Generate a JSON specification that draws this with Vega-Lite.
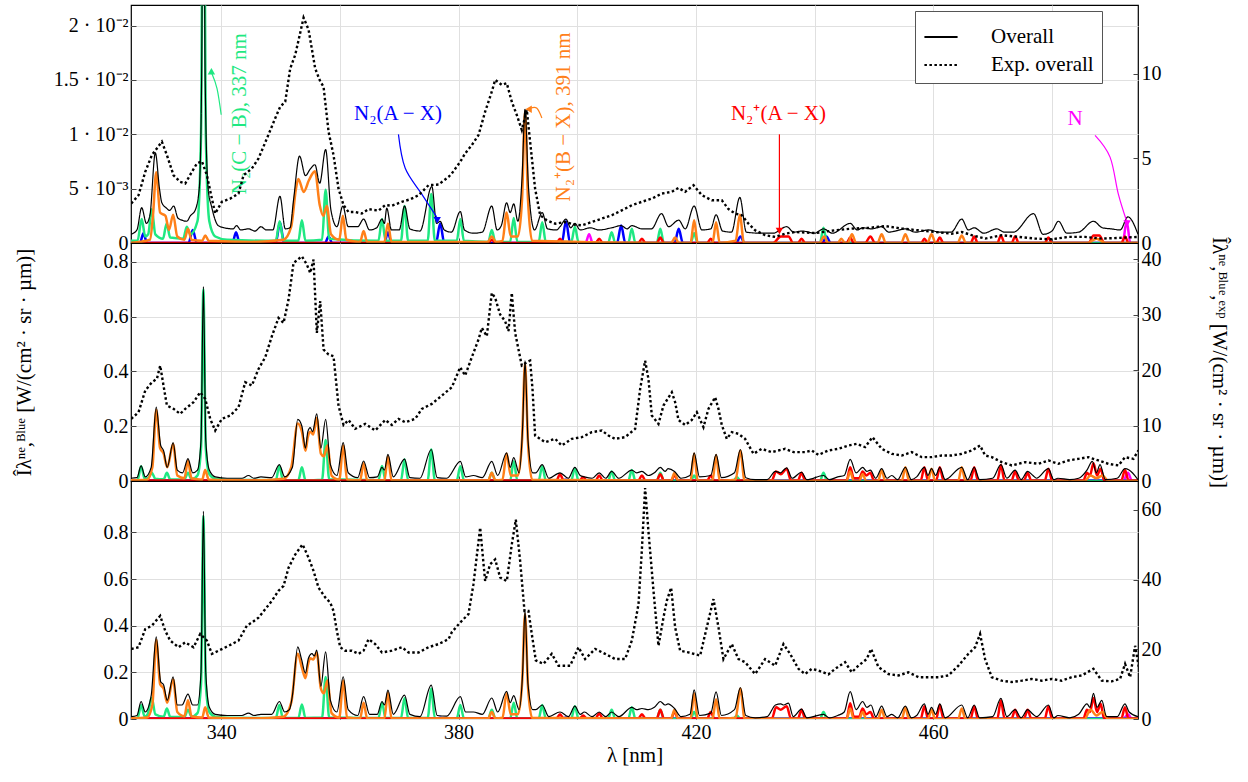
{
"$schema":"https://vega.github.io/schema/vega-lite/v6.json",
"padding":{"left":12,"top":4,"right":5,"bottom":5},
"spacing":0,
"bounds":"flush",
"config":{"font":"Liberation Serif","view":{"stroke":"black","strokeWidth":1.2},
"style":{"guide-label":{"font":"Liberation Serif"},"guide-title":{"font":"Liberation Serif"}},
"axis":{"labelFontSize":20,"titleFontSize":21,"labelColor":"#000","titleColor":"#000","titleFontWeight":"normal","gridColor":"#e0e0e0","tickColor":"#444","labelFont":"Liberation Serif","titleFont":"Liberation Serif","domain":false},
"text":{"font":"Liberation Serif"}},
"resolve":{"scale":{"x":"independent","y":"independent","color":"independent","strokeDash":"independent","shape":"independent"}},
"datasets":{
"t_b":[{"x":324.8,"y":0},{"x":326.3,"y":0},{"x":326.9,"y":0.0009},{"x":327.5,"y":0},{"x":334.5,"y":0},{"x":335.2,"y":0.0012},{"x":335.9,"y":0},{"x":341.9,"y":0},{"x":342.5,"y":0.001},{"x":343.1,"y":0},{"x":349.2,"y":0},{"x":349.9,"y":0.0019},{"x":350.6,"y":0},{"x":357.5,"y":0},{"x":358.1,"y":0.0006},{"x":358.7,"y":0},{"x":367.5,"y":0},{"x":368.1,"y":0.001},{"x":368.7,"y":0},{"x":376.2,"y":0},{"x":376.9,"y":0.0018},{"x":377.6,"y":0},{"x":397.4,"y":0},{"x":398.1,"y":0.002},{"x":398.8,"y":0},{"x":406.7,"y":0},{"x":407.4,"y":0.0016},{"x":408.1,"y":0},{"x":416.4,"y":0},{"x":417.1,"y":0.0013},{"x":417.8,"y":0},{"x":426.8,"y":0},{"x":427.5,"y":0.0006},{"x":428.2,"y":0},{"x":441.3,"y":0},{"x":442,"y":0.0006},{"x":442.7,"y":0},{"x":494.5,"y":0}],
"t_g":[{"x":324.8,"y":0.0002},{"x":325.9,"y":0.0002},{"x":326.6,"y":0.0022},{"x":327.2,"y":0.0006},{"x":327.7,"y":0.0008},{"x":328.3,"y":0.0031},{"x":328.9,"y":0.0008},{"x":330.2,"y":0.0004},{"x":330.8,"y":0.0018},{"x":331.4,"y":0.0005},{"x":333.6,"y":0.0004},{"x":334.2,"y":0.0015},{"x":334.8,"y":0.0008},{"x":336.0,"y":0.002},{"x":336.6,"y":0.01},{"x":337.0,"y":0.045},{"x":337.4,"y":0.01},{"x":338.0,"y":0.002},{"x":339.0,"y":0.0006},{"x":341,"y":0.0003},{"x":349.2,"y":0.0002},{"x":349.85,"y":0.002},{"x":350.5,"y":0.0002},{"x":353.0,"y":0.0002},{"x":353.6,"y":0.0021},{"x":354.2,"y":0.0002},{"x":357.0,"y":0.0003},{"x":357.6,"y":0.0049},{"x":358.2,"y":0.0004},{"x":366.5,"y":0.0002},{"x":367.1,"y":0.0022},{"x":367.7,"y":0.0002},{"x":370.3,"y":0.0002},{"x":370.9,"y":0.0034},{"x":371.5,"y":0.0002},{"x":374.8,"y":0.0002},{"x":375.4,"y":0.0045},{"x":376.0,"y":0.0002},{"x":379.7,"y":0.0002},{"x":380.3,"y":0.0022},{"x":380.9,"y":0.0002},{"x":385.0,"y":0.0001},{"x":385.6,"y":0.0012},{"x":386.2,"y":0.0001},{"x":388.7,"y":0.0001},{"x":389.3,"y":0.0023},{"x":389.9,"y":0.0001},{"x":393.5,"y":0.0001},{"x":394.1,"y":0.0019},{"x":394.7,"y":0.0001},{"x":399.0,"y":0.0001},{"x":399.6,"y":0.0015},{"x":400.2,"y":0.0001},{"x":405.2,"y":0},{"x":405.8,"y":0.001},{"x":406.4,"y":0},{"x":408.6,"y":0},{"x":409.2,"y":0.0013},{"x":409.8,"y":0},{"x":413.4,"y":0},{"x":414.0,"y":0.0013},{"x":414.6,"y":0},{"x":419.1,"y":0},{"x":419.7,"y":0.0009},{"x":420.3,"y":0},{"x":440.9,"y":0},{"x":441.5,"y":0.0014},{"x":442.1,"y":0},{"x":494.5,"y":0}],
"t_r":[{"x":324.8,"y":0},{"x":385,"y":0},{"x":385.6,"y":0.0003},{"x":386.2,"y":0},{"x":396.5,"y":0},{"x":397.1,"y":0.0004},{"x":397.7,"y":0},{"x":403.1,"y":0},{"x":403.7,"y":0.0004},{"x":404.3,"y":0},{"x":410.3,"y":0},{"x":410.9,"y":0.0004},{"x":411.5,"y":0},{"x":413.4,"y":0},{"x":414,"y":0.0005},{"x":414.6,"y":0},{"x":421.9,"y":0},{"x":422.5,"y":0.0004},{"x":423.1,"y":0},{"x":433,"y":0},{"x":434.3,"y":0.0006},{"x":435.6,"y":0.0006},{"x":436.4,"y":0},{"x":437.2,"y":0},{"x":437.8,"y":0.0004},{"x":438.4,"y":0},{"x":445.4,"y":0},{"x":446.0,"y":0.0005},{"x":446.6,"y":0},{"x":448.5,"y":0},{"x":449.4,"y":0.0006},{"x":450.2,"y":0},{"x":458.0,"y":0},{"x":458.5,"y":0.0004},{"x":459.1,"y":0},{"x":460.5,"y":0},{"x":461.1,"y":0.0005},{"x":461.7,"y":0},{"x":466.3,"y":0},{"x":466.9,"y":0.0006},{"x":467.5,"y":0},{"x":470.8,"y":0},{"x":471.4,"y":0.0007},{"x":472,"y":0},{"x":473.2,"y":0},{"x":473.8,"y":0.0006},{"x":474.4,"y":0},{"x":478.8,"y":0},{"x":479.4,"y":0.0005},{"x":480,"y":0},{"x":486.2,"y":0},{"x":487.0,"y":0.0007},{"x":488.0,"y":0.0007},{"x":488.8,"y":0},{"x":491.7,"y":0},{"x":492.3,"y":0.0006},{"x":492.9,"y":0},{"x":494.5,"y":0}],
"t_o":[{"x":324.8,"y":0},{"x":328.0,"y":0.0003},{"x":328.5,"y":0.0025},{"x":329.05,"y":0.0065},{"x":329.7,"y":0.0028},{"x":330.6,"y":0.0025},{"x":331.2,"y":0.0012},{"x":331.9,"y":0.0026},{"x":332.6,"y":0.0006},{"x":333.8,"y":0.0003},{"x":334.4,"y":0.0013},{"x":335.0,"y":0.0003},{"x":336.8,"y":0.0002},{"x":337.3,"y":0.0007},{"x":337.9,"y":0.0002},{"x":345,"y":0.0001},{"x":350.5,"y":0.0003},{"x":351.8,"y":0.0015},{"x":352.6,"y":0.005},{"x":353.0,"y":0.0059},{"x":353.9,"y":0.0047},{"x":354.8,"y":0.0058},{"x":355.8,"y":0.0066},{"x":356.6,"y":0.0035},{"x":357.2,"y":0.0025},{"x":357.8,"y":0.0034},{"x":358.5,"y":0.0008},{"x":359.9,"y":0.0003},{"x":360.5,"y":0.0025},{"x":361.1,"y":0.0003},{"x":363.4,"y":0.0001},{"x":364.0,"y":0.0011},{"x":364.6,"y":0.0001},{"x":367.5,"y":0.0001},{"x":368.1,"y":0.0018},{"x":368.7,"y":0.0001},{"x":384.9,"y":0.0001},{"x":385.6,"y":0.0006},{"x":386.3,"y":0.0001},{"x":387.4,"y":0.0002},{"x":388.1,"y":0.0028},{"x":388.8,"y":0.0006},{"x":390.0,"y":0.0006},{"x":390.7,"y":0.004},{"x":391.2,"y":0.0121},{"x":391.7,"y":0.004},{"x":392.4,"y":0.0002},{"x":415.8,"y":0},{"x":416.5,"y":0.0005},{"x":417.1,"y":0},{"x":419.1,"y":0},{"x":419.7,"y":0.0021},{"x":420.3,"y":0},{"x":422.8,"y":0},{"x":423.4,"y":0.0019},{"x":424.0,"y":0},{"x":426.7,"y":0.0002},{"x":427.4,"y":0.0026},{"x":428.1,"y":0},{"x":440.8,"y":0},{"x":441.6,"y":0.0006},{"x":442.3,"y":0},{"x":443.9,"y":0},{"x":444.5,"y":0.0004},{"x":445.1,"y":0},{"x":445.6,"y":0},{"x":446.3,"y":0.0008},{"x":447.0,"y":0},{"x":450.6,"y":0},{"x":451.3,"y":0.0008},{"x":452.0,"y":0},{"x":454.6,"y":0},{"x":455.3,"y":0.0008},{"x":456,"y":0},{"x":459,"y":0},{"x":459.7,"y":0.0008},{"x":460.4,"y":0},{"x":464.1,"y":0},{"x":464.8,"y":0.0007},{"x":465.5,"y":0},{"x":486,"y":0},{"x":487.5,"y":0.0004},{"x":489,"y":0},{"x":494.5,"y":0}],
"t_m":[{"x":324.8,"y":0},{"x":401.4,"y":0},{"x":402.0,"y":0.0008},{"x":402.6,"y":0},{"x":491.9,"y":0},{"x":492.6,"y":0.002},{"x":493.2,"y":0},{"x":494.5,"y":0}],
"t_all":[{"x":324.8,"y":0.0008},{"x":325.8,"y":0.0012},{"x":326.6,"y":0.00325},{"x":327.4,"y":0.0018},{"x":328.0,"y":0.0026},{"x":328.9,"y":0.0083},{"x":329.6,"y":0.005},{"x":330.0,"y":0.0037},{"x":330.8,"y":0.0032},{"x":331.3,"y":0.003},{"x":332.0,"y":0.0034},{"x":332.7,"y":0.0023},{"x":333.4,"y":0.0021},{"x":334.2,"y":0.002},{"x":334.8,"y":0.0025},{"x":335.6,"y":0.003},{"x":336.3,"y":0.005},{"x":336.7,"y":0.015},{"x":337.0,"y":0.045},{"x":337.3,"y":0.015},{"x":337.8,"y":0.005},{"x":338.4,"y":0.0033},{"x":339.5,"y":0.0016},{"x":340.5,"y":0.0014},{"x":342.0,"y":0.0013},{"x":342.6,"y":0.0016},{"x":343.3,"y":0.0012},{"x":344.6,"y":0.0013},{"x":345.7,"y":0.0011},{"x":346.7,"y":0.0015},{"x":347.6,"y":0.0012},{"x":348.7,"y":0.0012},{"x":349.9,"y":0.0043},{"x":350.8,"y":0.0013},{"x":351.6,"y":0.0014},{"x":352.2,"y":0.004},{"x":353.2,"y":0.008},{"x":354.2,"y":0.0062},{"x":355.0,"y":0.0068},{"x":355.8,"y":0.0072},{"x":356.6,"y":0.0055},{"x":357.6,"y":0.0086},{"x":358.5,"y":0.003},{"x":359.5,"y":0.0015},{"x":360.5,"y":0.0034},{"x":361.4,"y":0.0015},{"x":363.0,"y":0.0015},{"x":364.0,"y":0.0022},{"x":365.0,"y":0.0012},{"x":366.2,"y":0.0014},{"x":367.1,"y":0.0022},{"x":367.5,"y":0.0018},{"x":367.9,"y":0.0032},{"x":368.7,"y":0.0012},{"x":370.0,"y":0.0012},{"x":370.9,"y":0.0034},{"x":371.8,"y":0.0013},{"x":373.5,"y":0.0011},{"x":375.5,"y":0.0052},{"x":376.3,"y":0.0018},{"x":376.9,"y":0.002},{"x":377.6,"y":0.0012},{"x":378.8,"y":0.001},{"x":380.3,"y":0.0029},{"x":381.0,"y":0.0012},{"x":382.5,"y":0.0009},{"x":384.0,"y":0.001},{"x":385.6,"y":0.0034},{"x":386.5,"y":0.0012},{"x":387.2,"y":0.0016},{"x":388.1,"y":0.0037},{"x":388.7,"y":0.0028},{"x":389.3,"y":0.0036},{"x":390.0,"y":0.002},{"x":390.7,"y":0.006},{"x":391.2,"y":0.0123},{"x":391.8,"y":0.005},{"x":392.8,"y":0.0012},{"x":394.1,"y":0.0028},{"x":395.0,"y":0.0013},{"x":396.5,"y":0.0012},{"x":397.1,"y":0.0015},{"x":398.1,"y":0.0022},{"x":398.9,"y":0.0014},{"x":399.6,"y":0.0018},{"x":400.5,"y":0.0012},{"x":402.2,"y":0.0014},{"x":403.7,"y":0.0012},{"x":405.8,"y":0.0014},{"x":407.4,"y":0.0016},{"x":408.4,"y":0.0013},{"x":409.2,"y":0.0016},{"x":410.9,"y":0.0013},{"x":412.5,"y":0.0013},{"x":414.2,"y":0.0027},{"x":415.4,"y":0.0015},{"x":417.1,"y":0.0021},{"x":418.2,"y":0.0013},{"x":419.7,"y":0.0034},{"x":421.0,"y":0.0012},{"x":422.5,"y":0.0013},{"x":423.4,"y":0.0026},{"x":424.5,"y":0.0011},{"x":426.0,"y":0.001},{"x":427.4,"y":0.0042},{"x":428.5,"y":0.001},{"x":431.0,"y":0.0009},{"x":433.0,"y":0.0009},{"x":435.3,"y":0.0015},{"x":436.5,"y":0.001},{"x":437.9,"y":0.0011},{"x":440.0,"y":0.0009},{"x":441.5,"y":0.0013},{"x":443.0,"y":0.0009},{"x":446.0,"y":0.0018},{"x":447.2,"y":0.0012},{"x":448.1,"y":0.0014},{"x":449.6,"y":0.0013},{"x":451.3,"y":0.0015},{"x":452.5,"y":0.001},{"x":453.6,"y":0.0011},{"x":455.3,"y":0.0013},{"x":457.0,"y":0.001},{"x":459.2,"y":0.0012},{"x":461.1,"y":0.001},{"x":463.0,"y":0.001},{"x":464.8,"y":0.0022},{"x":465.9,"y":0.0012},{"x":466.9,"y":0.0014},{"x":468.5,"y":0.0009},{"x":470.7,"y":0.0013},{"x":472.0,"y":0.001},{"x":473.5,"y":0.001},{"x":476.9,"y":0.0027},{"x":478.5,"y":0.0008},{"x":480.0,"y":0.0011},{"x":481.1,"y":0.002},{"x":482.5,"y":0.0009},{"x":484.5,"y":0.001},{"x":487.0,"y":0.002},{"x":488.5,"y":0.0014},{"x":490.0,"y":0.0013},{"x":491.5,"y":0.0012},{"x":492.8,"y":0.0024},{"x":494.5,"y":0.0008}],
"t_exp":[{"x":324.84,"y":2.33},{"x":326.07,"y":2.82},{"x":327.2,"y":4.2},{"x":328.32,"y":5.19},{"x":329.16,"y":5.58},{"x":330.0,"y":5.98},{"x":330.85,"y":5.19},{"x":331.97,"y":4.0},{"x":333.09,"y":3.61},{"x":333.94,"y":3.51},{"x":335.06,"y":4.2},{"x":335.9,"y":4.69},{"x":336.74,"y":4.83},{"x":337.59,"y":4.0},{"x":338.43,"y":2.62},{"x":338.99,"y":1.74},{"x":340.11,"y":2.43},{"x":341.52,"y":2.62},{"x":342.92,"y":2.92},{"x":343.77,"y":4.0},{"x":345.17,"y":4.4},{"x":346.29,"y":4.99},{"x":347.7,"y":6.17},{"x":349.1,"y":7.36},{"x":349.95,"y":8.05},{"x":350.79,"y":8.34},{"x":351.63,"y":10.3},{"x":352.47,"y":11.1},{"x":353.31,"y":12.4},{"x":353.88,"y":13.3},{"x":354.72,"y":12.6},{"x":355.84,"y":10.3},{"x":356.7,"y":9.53},{"x":357.25,"y":9.23},{"x":358.09,"y":6.57},{"x":358.93,"y":5.19},{"x":359.77,"y":3.21},{"x":360.62,"y":2.23},{"x":361.46,"y":1.83},{"x":362.58,"y":1.83},{"x":363.7,"y":1.74},{"x":364.83,"y":2.0},{"x":366.51,"y":1.91},{"x":367.64,"y":2.24},{"x":368.76,"y":2.2},{"x":370.45,"y":2.43},{"x":371.85,"y":2.58},{"x":373.26,"y":2.82},{"x":374.94,"y":3.41},{"x":376.63,"y":3.45},{"x":378.31,"y":3.9},{"x":378.86,"y":4.1},{"x":380.28,"y":4.79},{"x":381.11,"y":5.29},{"x":382.23,"y":5.78},{"x":383.36,"y":6.37},{"x":384.48,"y":7.75},{"x":385.6,"y":8.93},{"x":386.17,"y":9.63},{"x":387.29,"y":9.33},{"x":388.13,"y":9.43},{"x":388.97,"y":8.34},{"x":389.82,"y":7.55},{"x":390.66,"y":6.67},{"x":391.5,"y":7.85},{"x":392.06,"y":5.98},{"x":392.9,"y":3.21},{"x":393.75,"y":1.64},{"x":394.87,"y":1.34},{"x":396.28,"y":1.14},{"x":397.96,"y":1.24},{"x":399.65,"y":1.08},{"x":400.77,"y":1.04},{"x":402.45,"y":1.24},{"x":404.14,"y":1.44},{"x":405.83,"y":1.64},{"x":407.51,"y":1.93},{"x":409.2,"y":2.23},{"x":410.88,"y":2.43},{"x":412.57,"y":2.62},{"x":414.25,"y":2.92},{"x":415.94,"y":3.02},{"x":417.06,"y":3.25},{"x":418.18,"y":3.02},{"x":419.59,"y":3.41},{"x":421.0,"y":2.82},{"x":422.68,"y":2.52},{"x":424.36,"y":2.52},{"x":425.49,"y":2.0},{"x":426.61,"y":1.74},{"x":427.73,"y":1.64},{"x":428.86,"y":1.14},{"x":429.98,"y":0.75},{"x":431.66,"y":0.46},{"x":433.35,"y":0.36},{"x":435.03,"y":0.55},{"x":436.72,"y":0.65},{"x":440.1,"y":0.59},{"x":443.46,"y":0.75},{"x":446.26,"y":0.85},{"x":449.07,"y":0.89},{"x":451.88,"y":1.0},{"x":454.69,"y":0.85},{"x":457.5,"y":0.75},{"x":460.3,"y":0.65},{"x":463.12,"y":0.55},{"x":464.8,"y":0.65},{"x":466.5,"y":0.46},{"x":468.73,"y":0.26},{"x":471.54,"y":0.46},{"x":474.35,"y":0.36},{"x":477.16,"y":0.26},{"x":479.97,"y":0.22},{"x":482.77,"y":0.36},{"x":485.58,"y":0.36},{"x":488.39,"y":0.26},{"x":491.2,"y":0.3},{"x":494.57,"y":0.36}],
"t_labv":[{"s":"N2CB","t":"N₂(C − B), 337 nm","x":343.2,"y":0.0119},{"s":"N2pBX","t":"N₂⁺(B − X), 391 nm","x":397.8,"y":0.0116}],
"t_labh":[{"s":"N2AX","t":"N₂(A − X)","x":369.8,"y":0.0119},{"s":"N2pAX","t":"N₂⁺(A − X)","x":433.9,"y":0.0119},{"s":"N","t":"N","x":483.9,"y":0.0114}],
"t_arr":[{"s":"N2CB","i":0,"x":340.0,"y":0.0118},{"s":"N2CB","i":1,"x":339.3,"y":0.0142},{"s":"N2CB","i":2,"x":338.43,"y":0.0156},
{"s":"N2AX","i":0,"x":369.87,"y":0.0100},{"s":"N2AX","i":1,"x":371.0,"y":0.0069},{"s":"N2AX","i":2,"x":373.8,"y":0.0045},{"s":"N2AX","i":3,"x":376.3,"y":0.0024},
{"s":"N2pBX","i":0,"x":394.04,"y":0.0115},{"s":"N2pBX","i":1,"x":393.2,"y":0.0124},{"s":"N2pBX","i":2,"x":392.1,"y":0.0124},
{"s":"N2pAX","i":0,"x":434.07,"y":0.0100},{"s":"N2pAX","i":1,"x":434.07,"y":0.0013},
{"s":"N","i":0,"x":487.26,"y":0.0099},{"s":"N","i":1,"x":489.79,"y":0.0079},{"s":"N","i":2,"x":491.19,"y":0.0045},{"s":"N","i":3,"x":492.6,"y":0.0020}],
"t_head":[{"s":"N2CB","x":338.35,"y":0.0158},{"s":"N2AX","x":376.4,"y":0.0021},{"s":"N2pBX","x":391.8,"y":0.0123},{"s":"N2pAX","x":434.07,"y":0.0011},{"s":"N","x":492.65,"y":0.0018}],
"m_b":[{"x":324.8,"y":0.002},{"x":349.2,"y":0.002},{"x":349.9,"y":0.006},{"x":350.6,"y":0.002},{"x":376.2,"y":0.002},{"x":376.9,"y":0.004},{"x":377.6,"y":0.002},{"x":397.4,"y":0.002},{"x":398.1,"y":0.005},{"x":398.8,"y":0.002},{"x":494.5,"y":0.002}],
"m_g":[{"x":324.8,"y":0.003},{"x":325.9,"y":0.003},{"x":326.5,"y":0.054},{"x":327.1,"y":0.008},{"x":327.7,"y":0.01},{"x":328.3,"y":0.03},{"x":328.9,"y":0.008},{"x":330.3,"y":0.006},{"x":330.85,"y":0.03},{"x":331.4,"y":0.006},{"x":333.8,"y":0.005},{"x":334.4,"y":0.03},{"x":335.0,"y":0.006},{"x":336.0,"y":0.02},{"x":336.6,"y":0.12},{"x":337.0,"y":0.70},{"x":337.4,"y":0.12},{"x":338.0,"y":0.025},{"x":339.0,"y":0.008},{"x":341,"y":0.004},{"x":349.2,"y":0.003},{"x":349.8,"y":0.055},{"x":350.4,"y":0.003},{"x":353.0,"y":0.003},{"x":353.6,"y":0.05},{"x":354.2,"y":0.003},{"x":357.0,"y":0.005},{"x":357.6,"y":0.15},{"x":358.2,"y":0.006},{"x":366.5,"y":0.003},{"x":367.1,"y":0.055},{"x":367.7,"y":0.003},{"x":370.3,"y":0.003},{"x":370.9,"y":0.079},{"x":371.5,"y":0.003},{"x":374.8,"y":0.003},{"x":375.4,"y":0.115},{"x":376.0,"y":0.003},{"x":379.7,"y":0.003},{"x":380.3,"y":0.054},{"x":380.9,"y":0.003},{"x":385.0,"y":0.002},{"x":385.6,"y":0.03},{"x":386.2,"y":0.002},{"x":388.7,"y":0.002},{"x":389.3,"y":0.072},{"x":389.9,"y":0.002},{"x":393.5,"y":0.002},{"x":394.1,"y":0.054},{"x":394.7,"y":0.002},{"x":399.0,"y":0.002},{"x":399.6,"y":0.047},{"x":400.2,"y":0.002},{"x":405.2,"y":0.001},{"x":405.8,"y":0.035},{"x":406.4,"y":0.001},{"x":408.6,"y":0.001},{"x":409.2,"y":0.04},{"x":409.8,"y":0.001},{"x":413.4,"y":0.001},{"x":414.0,"y":0.03},{"x":414.6,"y":0.001},{"x":419.1,"y":0.001},{"x":419.7,"y":0.02},{"x":420.3,"y":0.001},{"x":426.3,"y":0.001},{"x":426.9,"y":0.015},{"x":427.5,"y":0.001},{"x":440.9,"y":0},{"x":441.5,"y":0.03},{"x":442.1,"y":0},{"x":494.5,"y":0}],
"m_r":[{"x":324.8,"y":0.002},{"x":396.5,"y":0.002},{"x":397.1,"y":0.025},{"x":397.7,"y":0.002},{"x":400.4,"y":0.002},{"x":401.0,"y":0.015},{"x":401.6,"y":0.002},{"x":403.1,"y":0.002},{"x":403.7,"y":0.02},{"x":404.3,"y":0.002},{"x":410.3,"y":0.002},{"x":410.9,"y":0.02},{"x":411.5,"y":0.002},{"x":413.4,"y":0.002},{"x":414.0,"y":0.025},{"x":414.6,"y":0.002},{"x":415.8,"y":0.002},{"x":416.4,"y":0.02},{"x":417.0,"y":0.002},{"x":421.9,"y":0.002},{"x":422.5,"y":0.02},{"x":423.1,"y":0.002},{"x":432.8,"y":0.002},{"x":433.5,"y":0.035},{"x":434.3,"y":0.025},{"x":435.3,"y":0.045},{"x":436.0,"y":0.002},{"x":437.2,"y":0.002},{"x":437.8,"y":0.03},{"x":438.4,"y":0.002},{"x":445.4,"y":0.002},{"x":446.0,"y":0.05},{"x":446.6,"y":0.01},{"x":447.5,"y":0.01},{"x":448.1,"y":0.035},{"x":448.7,"y":0.02},{"x":449.4,"y":0.03},{"x":450.0,"y":0.002},{"x":457.9,"y":0.002},{"x":458.5,"y":0.05},{"x":459.1,"y":0.002},{"x":460.5,"y":0.002},{"x":461.1,"y":0.05},{"x":461.7,"y":0.002},{"x":466.3,"y":0.002},{"x":466.9,"y":0.05},{"x":467.5,"y":0.002},{"x":470.8,"y":0.002},{"x":471.4,"y":0.058},{"x":472.0,"y":0.002},{"x":473.2,"y":0.002},{"x":473.8,"y":0.035},{"x":474.4,"y":0.002},{"x":475.3,"y":0.002},{"x":475.9,"y":0.03},{"x":476.5,"y":0.002},{"x":478.8,"y":0.002},{"x":479.4,"y":0.045},{"x":480.0,"y":0.002},{"x":485.3,"y":0.002},{"x":485.9,"y":0.03},{"x":486.4,"y":0.02},{"x":487.0,"y":0.065},{"x":487.6,"y":0.02},{"x":488.2,"y":0.045},{"x":488.8,"y":0.002},{"x":491.7,"y":0.002},{"x":492.3,"y":0.04},{"x":492.9,"y":0.002},{"x":494.5,"y":0.002}],
"m_o":[{"x":324.8,"y":0.003},{"x":327.5,"y":0.005},{"x":328.4,"y":0.05},{"x":329.05,"y":0.26},{"x":329.7,"y":0.12},{"x":330.3,"y":0.10},{"x":330.9,"y":0.05},{"x":331.9,"y":0.135},{"x":332.6,"y":0.02},{"x":333.8,"y":0.01},{"x":334.4,"y":0.075},{"x":335.0,"y":0.01},{"x":336.8,"y":0.005},{"x":337.3,"y":0.04},{"x":337.9,"y":0.005},{"x":345,"y":0.002},{"x":350.5,"y":0.008},{"x":351.8,"y":0.05},{"x":352.9,"y":0.21},{"x":353.6,"y":0.18},{"x":354.2,"y":0.11},{"x":354.6,"y":0.16},{"x":355.0,"y":0.18},{"x":355.5,"y":0.17},{"x":356.1,"y":0.23},{"x":356.8,"y":0.1},{"x":357.3,"y":0.09},{"x":357.9,"y":0.13},{"x":358.6,"y":0.02},{"x":359.9,"y":0.005},{"x":360.56,"y":0.13},{"x":361.2,"y":0.005},{"x":363.4,"y":0.002},{"x":364.0,"y":0.065},{"x":364.6,"y":0.002},{"x":367.5,"y":0.002},{"x":368.1,"y":0.09},{"x":368.7,"y":0.002},{"x":385.0,"y":0.002},{"x":385.6,"y":0.03},{"x":386.2,"y":0.002},{"x":387.4,"y":0.005},{"x":388.1,"y":0.10},{"x":388.8,"y":0.02},{"x":390.0,"y":0.02},{"x":390.7,"y":0.15},{"x":391.2,"y":0.43},{"x":391.7,"y":0.14},{"x":392.4,"y":0.005},{"x":415.8,"y":0.001},{"x":416.4,"y":0.03},{"x":417.0,"y":0.001},{"x":419.1,"y":0.001},{"x":419.7,"y":0.10},{"x":420.3,"y":0.001},{"x":422.8,"y":0.001},{"x":423.4,"y":0.095},{"x":424.0,"y":0.001},{"x":426.7,"y":0.005},{"x":427.5,"y":0.11},{"x":428.2,"y":0.001},{"x":445.4,"y":0},{"x":446.0,"y":0.035},{"x":446.6,"y":0},{"x":447.5,"y":0},{"x":448.1,"y":0.025},{"x":448.7,"y":0},{"x":450.7,"y":0},{"x":451.3,"y":0.04},{"x":451.9,"y":0},{"x":454.7,"y":0},{"x":455.3,"y":0.05},{"x":455.9,"y":0},{"x":459.1,"y":0},{"x":459.7,"y":0.045},{"x":460.3,"y":0},{"x":464.2,"y":0},{"x":464.8,"y":0.05},{"x":465.4,"y":0},{"x":485.5,"y":0},{"x":486.5,"y":0.02},{"x":487.5,"y":0.01},{"x":488.5,"y":0.02},{"x":489.5,"y":0},{"x":494.5,"y":0}],
"m_m":[{"x":324.8,"y":0},{"x":492.0,"y":0},{"x":492.8,"y":0.03},{"x":493.5,"y":0},{"x":494.5,"y":0}],
"m_all":[{"x":324.8,"y":0.01},{"x":325.8,"y":0.012},{"x":326.5,"y":0.055},{"x":327.2,"y":0.015},{"x":328.2,"y":0.05},{"x":329.05,"y":0.27},{"x":329.8,"y":0.13},{"x":330.3,"y":0.11},{"x":330.9,"y":0.05},{"x":331.9,"y":0.14},{"x":332.6,"y":0.04},{"x":333.5,"y":0.03},{"x":334.4,"y":0.082},{"x":335.2,"y":0.03},{"x":336.0,"y":0.04},{"x":336.6,"y":0.15},{"x":337.0,"y":0.71},{"x":337.4,"y":0.15},{"x":338.0,"y":0.04},{"x":339.0,"y":0.015},{"x":341,"y":0.01},{"x":343.5,"y":0.01},{"x":344.6,"y":0.02},{"x":345.5,"y":0.01},{"x":346.7,"y":0.015},{"x":348.5,"y":0.012},{"x":349.8,"y":0.06},{"x":350.7,"y":0.015},{"x":352.0,"y":0.05},{"x":352.9,"y":0.225},{"x":353.6,"y":0.2},{"x":354.2,"y":0.12},{"x":354.6,"y":0.18},{"x":355.0,"y":0.195},{"x":355.4,"y":0.18},{"x":356.1,"y":0.245},{"x":356.8,"y":0.12},{"x":357.6,"y":0.225},{"x":358.4,"y":0.06},{"x":359.5,"y":0.02},{"x":360.56,"y":0.14},{"x":361.4,"y":0.03},{"x":363.0,"y":0.012},{"x":364.0,"y":0.073},{"x":365.0,"y":0.012},{"x":366.3,"y":0.015},{"x":367.1,"y":0.05},{"x":367.5,"y":0.04},{"x":368.1,"y":0.097},{"x":369.0,"y":0.015},{"x":370.9,"y":0.08},{"x":371.8,"y":0.012},{"x":373.5,"y":0.01},{"x":375.4,"y":0.115},{"x":376.4,"y":0.012},{"x":378,"y":0.01},{"x":380.3,"y":0.072},{"x":381.2,"y":0.015},{"x":382.5,"y":0.02},{"x":384,"y":0.012},{"x":385.6,"y":0.072},{"x":386.6,"y":0.02},{"x":388.1,"y":0.103},{"x":388.7,"y":0.05},{"x":389.3,"y":0.085},{"x":390.2,"y":0.03},{"x":390.8,"y":0.2},{"x":391.2,"y":0.44},{"x":391.7,"y":0.15},{"x":392.5,"y":0.03},{"x":393.0,"y":0.03},{"x":394.1,"y":0.06},{"x":395.2,"y":0.01},{"x":397.1,"y":0.03},{"x":398.5,"y":0.01},{"x":399.6,"y":0.05},{"x":400.5,"y":0.02},{"x":401.2,"y":0.015},{"x":402.5,"y":0.01},{"x":403.7,"y":0.03},{"x":404.8,"y":0.01},{"x":405.8,"y":0.035},{"x":407,"y":0.01},{"x":409.2,"y":0.04},{"x":410.0,"y":0.03},{"x":410.9,"y":0.035},{"x":412,"y":0.02},{"x":413,"y":0.03},{"x":414.0,"y":0.05},{"x":414.8,"y":0.035},{"x":415.3,"y":0.045},{"x":416.4,"y":0.035},{"x":417.5,"y":0.01},{"x":419.0,"y":0.02},{"x":419.7,"y":0.103},{"x":420.6,"y":0.015},{"x":422.5,"y":0.02},{"x":423.4,"y":0.097},{"x":424.3,"y":0.012},{"x":426.5,"y":0.03},{"x":427.5,"y":0.115},{"x":428.4,"y":0.012},{"x":430,"y":0.005},{"x":432,"y":0.005},{"x":433.4,"y":0.035},{"x":434.3,"y":0.03},{"x":434.8,"y":0.04},{"x":435.3,"y":0.048},{"x":436.2,"y":0.01},{"x":437.8,"y":0.032},{"x":438.7,"y":0.005},{"x":441.5,"y":0.02},{"x":442.5,"y":0.005},{"x":443.9,"y":0.015},{"x":445,"y":0.02},{"x":446.0,"y":0.079},{"x":447.0,"y":0.03},{"x":448.1,"y":0.05},{"x":448.8,"y":0.035},{"x":449.4,"y":0.04},{"x":450.3,"y":0.01},{"x":451.3,"y":0.045},{"x":452.2,"y":0.01},{"x":453.0,"y":0.02},{"x":454,"y":0.005},{"x":455.3,"y":0.05},{"x":456.3,"y":0.005},{"x":457.2,"y":0.015},{"x":458.5,"y":0.05},{"x":459.1,"y":0.02},{"x":459.7,"y":0.045},{"x":460.4,"y":0.02},{"x":461.1,"y":0.05},{"x":462,"y":0.005},{"x":464.8,"y":0.05},{"x":465.8,"y":0.005},{"x":466.9,"y":0.05},{"x":467.8,"y":0.005},{"x":470,"y":0.01},{"x":471.4,"y":0.06},{"x":472.4,"y":0.01},{"x":473.8,"y":0.04},{"x":474.8,"y":0.005},{"x":475.9,"y":0.035},{"x":476.8,"y":0.02},{"x":477.4,"y":0.01},{"x":479.4,"y":0.045},{"x":480.3,"y":0.005},{"x":481.0,"y":0.01},{"x":483,"y":0.005},{"x":484.5,"y":0.01},{"x":485.9,"y":0.04},{"x":486.8,"y":0.072},{"x":487.5,"y":0.03},{"x":488.1,"y":0.06},{"x":489,"y":0.005},{"x":491,"y":0.01},{"x":492.3,"y":0.045},{"x":493.0,"y":0.04},{"x":494.5,"y":0.005}],
"m_exp":[{"x":324.84,"y":11.2},{"x":326.07,"y":12.4},{"x":327.2,"y":16.3},{"x":328.32,"y":17.8},{"x":329.16,"y":18.4},{"x":329.72,"y":20.8},{"x":330.28,"y":17.2},{"x":330.85,"y":13.6},{"x":331.97,"y":13.0},{"x":333.09,"y":12.1},{"x":333.94,"y":13.0},{"x":335.34,"y":14.2},{"x":336.46,"y":16.0},{"x":337.31,"y":14.8},{"x":338.15,"y":11.2},{"x":338.99,"y":9.1},{"x":340.11,"y":11.2},{"x":341.52,"y":11.8},{"x":342.92,"y":13.3},{"x":344.05,"y":17.8},{"x":345.17,"y":17.2},{"x":346.29,"y":20.2},{"x":347.42,"y":22.3},{"x":348.54,"y":26.1},{"x":349.66,"y":29.4},{"x":350.51,"y":28.5},{"x":351.35,"y":32.7},{"x":352.19,"y":39.3},{"x":353.6,"y":40.5},{"x":354.44,"y":39.0},{"x":355.0,"y":37.5},{"x":355.56,"y":39.9},{"x":356.12,"y":26.7},{"x":356.69,"y":32.4},{"x":357.25,"y":23.7},{"x":358.09,"y":22.8},{"x":358.93,"y":22.5},{"x":359.77,"y":13.6},{"x":360.62,"y":10.1},{"x":361.46,"y":11.0},{"x":362.58,"y":9.4},{"x":364.27,"y":10.3},{"x":365.95,"y":9.1},{"x":367.64,"y":11.0},{"x":368.76,"y":10.1},{"x":369.89,"y":11.2},{"x":371.01,"y":10.6},{"x":372.69,"y":11.2},{"x":373.82,"y":13.0},{"x":375.5,"y":13.9},{"x":377.19,"y":15.4},{"x":378.87,"y":16.9},{"x":380.28,"y":20.5},{"x":381.11,"y":19.0},{"x":382.23,"y":22.3},{"x":383.36,"y":25.5},{"x":383.92,"y":27.6},{"x":384.76,"y":26.1},{"x":385.6,"y":33.9},{"x":386.17,"y":33.0},{"x":387.01,"y":30.0},{"x":387.85,"y":28.8},{"x":388.41,"y":27.0},{"x":388.97,"y":33.9},{"x":389.54,"y":26.7},{"x":390.1,"y":23.7},{"x":390.66,"y":20.8},{"x":391.5,"y":21.4},{"x":392.06,"y":21.7},{"x":392.46,"y":16.6},{"x":392.9,"y":8.2},{"x":393.75,"y":7.6},{"x":394.59,"y":7.0},{"x":396.28,"y":7.6},{"x":397.4,"y":6.4},{"x":399.08,"y":7.6},{"x":400.77,"y":7.9},{"x":402.45,"y":8.8},{"x":404.14,"y":9.1},{"x":405.26,"y":8.2},{"x":406.39,"y":7.6},{"x":408.07,"y":7.9},{"x":409.76,"y":9.4},{"x":410.6,"y":16.6},{"x":411.44,"y":21.7},{"x":412.0,"y":18.4},{"x":412.57,"y":11.8},{"x":413.69,"y":10.3},{"x":414.53,"y":13.6},{"x":415.94,"y":16.0},{"x":416.5,"y":14.2},{"x":417.06,"y":11.0},{"x":418.18,"y":10.1},{"x":419.31,"y":11.0},{"x":420.15,"y":12.4},{"x":421.27,"y":9.7},{"x":422.11,"y":13.0},{"x":423.24,"y":15.1},{"x":423.8,"y":13.0},{"x":424.36,"y":10.1},{"x":425.2,"y":7.6},{"x":426.05,"y":8.8},{"x":427.17,"y":8.5},{"x":428.29,"y":7.6},{"x":429.7,"y":4.9},{"x":431.1,"y":5.8},{"x":432.79,"y":5.2},{"x":433.91,"y":5.5},{"x":435.03,"y":5.8},{"x":436.44,"y":5.2},{"x":438.4,"y":5.2},{"x":439.52,"y":5.5},{"x":440.65,"y":4.7},{"x":442.33,"y":5.5},{"x":444.02,"y":5.8},{"x":445.7,"y":6.4},{"x":447.11,"y":6.7},{"x":448.51,"y":6.1},{"x":449.75,"y":7.9},{"x":451.32,"y":5.8},{"x":453.0,"y":4.9},{"x":454.69,"y":4.6},{"x":456.37,"y":5.2},{"x":458.06,"y":4.3},{"x":459.74,"y":4.3},{"x":461.43,"y":4.6},{"x":463.12,"y":4.6},{"x":464.8,"y":4.9},{"x":466.49,"y":5.5},{"x":467.89,"y":6.4},{"x":468.73,"y":4.6},{"x":469.86,"y":4.3},{"x":471.54,"y":3.4},{"x":473.23,"y":2.8},{"x":475.47,"y":3.4},{"x":477.72,"y":3.1},{"x":479.4,"y":3.7},{"x":481.09,"y":3.1},{"x":482.77,"y":3.7},{"x":484.46,"y":4.0},{"x":486.14,"y":4.3},{"x":487.83,"y":3.7},{"x":489.51,"y":3.1},{"x":491.2,"y":2.8},{"x":492.32,"y":4.3},{"x":493.73,"y":4.0},{"x":494.57,"y":5.5}],
"b_b":[{"x":324.8,"y":0.002},{"x":349.2,"y":0.002},{"x":349.9,"y":0.006},{"x":350.6,"y":0.002},{"x":376.2,"y":0.002},{"x":376.9,"y":0.005},{"x":377.6,"y":0.002},{"x":397.4,"y":0.002},{"x":398.1,"y":0.006},{"x":398.8,"y":0.002},{"x":494.5,"y":0.002}],
"b_g":[{"x":324.8,"y":0.004},{"x":325.9,"y":0.004},{"x":326.5,"y":0.06},{"x":327.1,"y":0.01},{"x":327.6,"y":0.02},{"x":328.3,"y":0.09},{"x":328.9,"y":0.02},{"x":330.3,"y":0.01},{"x":330.85,"y":0.045},{"x":331.4,"y":0.01},{"x":333.8,"y":0.008},{"x":334.4,"y":0.04},{"x":335.0,"y":0.01},{"x":336.0,"y":0.025},{"x":336.6,"y":0.15},{"x":337.0,"y":0.87},{"x":337.4,"y":0.15},{"x":338.0,"y":0.03},{"x":339.0,"y":0.01},{"x":341,"y":0.005},{"x":349.2,"y":0.004},{"x":349.8,"y":0.06},{"x":350.4,"y":0.004},{"x":353.0,"y":0.004},{"x":353.6,"y":0.062},{"x":354.2,"y":0.004},{"x":357.0,"y":0.006},{"x":357.6,"y":0.18},{"x":358.2,"y":0.006},{"x":366.5,"y":0.004},{"x":367.1,"y":0.07},{"x":367.7,"y":0.004},{"x":370.3,"y":0.004},{"x":370.9,"y":0.09},{"x":371.5,"y":0.004},{"x":374.8,"y":0.004},{"x":375.4,"y":0.13},{"x":376.0,"y":0.004},{"x":379.7,"y":0.003},{"x":380.3,"y":0.06},{"x":380.9,"y":0.003},{"x":385.0,"y":0.002},{"x":385.6,"y":0.04},{"x":386.2,"y":0.002},{"x":388.7,"y":0.002},{"x":389.3,"y":0.07},{"x":389.9,"y":0.002},{"x":393.5,"y":0.002},{"x":394.1,"y":0.06},{"x":394.7,"y":0.002},{"x":399.0,"y":0.002},{"x":399.6,"y":0.055},{"x":400.2,"y":0.002},{"x":405.2,"y":0.001},{"x":405.8,"y":0.04},{"x":406.4,"y":0.001},{"x":408.6,"y":0.001},{"x":409.2,"y":0.05},{"x":409.8,"y":0.001},{"x":413.4,"y":0.001},{"x":414.0,"y":0.04},{"x":414.6,"y":0.001},{"x":419.1,"y":0.001},{"x":419.7,"y":0.03},{"x":420.3,"y":0.001},{"x":426.3,"y":0.001},{"x":426.9,"y":0.015},{"x":427.5,"y":0.001},{"x":440.9,"y":0},{"x":441.5,"y":0.03},{"x":442.1,"y":0},{"x":494.5,"y":0}],
"b_r":[{"x":324.8,"y":0.002},{"x":396.5,"y":0.002},{"x":397.1,"y":0.02},{"x":397.7,"y":0.002},{"x":400.4,"y":0.002},{"x":401.0,"y":0.015},{"x":401.6,"y":0.002},{"x":403.1,"y":0.002},{"x":403.7,"y":0.025},{"x":404.3,"y":0.002},{"x":410.3,"y":0.002},{"x":410.9,"y":0.02},{"x":411.5,"y":0.002},{"x":413.4,"y":0.002},{"x":414.0,"y":0.04},{"x":414.6,"y":0.002},{"x":415.8,"y":0.002},{"x":416.4,"y":0.03},{"x":417.0,"y":0.002},{"x":421.9,"y":0.002},{"x":422.5,"y":0.03},{"x":423.1,"y":0.002},{"x":432.8,"y":0.002},{"x":433.5,"y":0.05},{"x":434.3,"y":0.04},{"x":435.3,"y":0.055},{"x":436.0,"y":0.002},{"x":437.2,"y":0.002},{"x":437.8,"y":0.04},{"x":438.4,"y":0.002},{"x":445.4,"y":0.002},{"x":446.0,"y":0.068},{"x":446.6,"y":0.01},{"x":447.5,"y":0.01},{"x":448.1,"y":0.045},{"x":448.7,"y":0.02},{"x":449.4,"y":0.03},{"x":450.0,"y":0.002},{"x":457.9,"y":0.002},{"x":458.5,"y":0.055},{"x":459.1,"y":0.002},{"x":460.5,"y":0.002},{"x":461.1,"y":0.06},{"x":461.7,"y":0.002},{"x":466.3,"y":0.002},{"x":466.9,"y":0.055},{"x":467.5,"y":0.002},{"x":470.8,"y":0.002},{"x":471.4,"y":0.08},{"x":472.0,"y":0.002},{"x":473.2,"y":0.002},{"x":473.8,"y":0.04},{"x":474.4,"y":0.002},{"x":475.3,"y":0.002},{"x":475.9,"y":0.04},{"x":476.5,"y":0.002},{"x":478.8,"y":0.002},{"x":479.4,"y":0.055},{"x":480.0,"y":0.002},{"x":485.3,"y":0.002},{"x":485.9,"y":0.04},{"x":486.4,"y":0.03},{"x":487.0,"y":0.09},{"x":487.6,"y":0.03},{"x":488.2,"y":0.065},{"x":488.8,"y":0.002},{"x":491.7,"y":0.002},{"x":492.3,"y":0.05},{"x":492.9,"y":0.002},{"x":494.5,"y":0.002}],
"b_o":[{"x":324.8,"y":0.003},{"x":327.5,"y":0.006},{"x":328.4,"y":0.06},{"x":329.05,"y":0.34},{"x":329.7,"y":0.15},{"x":330.3,"y":0.13},{"x":330.9,"y":0.07},{"x":331.9,"y":0.17},{"x":332.6,"y":0.03},{"x":333.8,"y":0.012},{"x":334.4,"y":0.08},{"x":335.0,"y":0.012},{"x":336.8,"y":0.006},{"x":337.3,"y":0.05},{"x":337.9,"y":0.006},{"x":345,"y":0.002},{"x":350.5,"y":0.01},{"x":351.8,"y":0.07},{"x":352.9,"y":0.28},{"x":353.6,"y":0.22},{"x":354.2,"y":0.175},{"x":354.6,"y":0.23},{"x":355.0,"y":0.26},{"x":355.5,"y":0.255},{"x":356.1,"y":0.285},{"x":356.8,"y":0.13},{"x":357.3,"y":0.11},{"x":357.9,"y":0.165},{"x":358.6,"y":0.025},{"x":359.9,"y":0.006},{"x":360.56,"y":0.165},{"x":361.2,"y":0.006},{"x":363.4,"y":0.002},{"x":364.0,"y":0.07},{"x":364.6,"y":0.002},{"x":367.5,"y":0.002},{"x":368.1,"y":0.115},{"x":368.7,"y":0.002},{"x":385.0,"y":0.002},{"x":385.6,"y":0.03},{"x":386.2,"y":0.002},{"x":387.4,"y":0.005},{"x":388.1,"y":0.11},{"x":388.8,"y":0.02},{"x":390.0,"y":0.02},{"x":390.7,"y":0.15},{"x":391.2,"y":0.45},{"x":391.7,"y":0.14},{"x":392.4,"y":0.005},{"x":415.8,"y":0.001},{"x":416.4,"y":0.04},{"x":417.0,"y":0.001},{"x":419.1,"y":0.001},{"x":419.7,"y":0.11},{"x":420.3,"y":0.001},{"x":422.8,"y":0.001},{"x":423.4,"y":0.085},{"x":424.0,"y":0.001},{"x":426.7,"y":0.005},{"x":427.5,"y":0.13},{"x":428.2,"y":0.001},{"x":445.4,"y":0},{"x":446.0,"y":0.045},{"x":446.6,"y":0},{"x":447.5,"y":0},{"x":448.1,"y":0.03},{"x":448.7,"y":0},{"x":450.7,"y":0},{"x":451.3,"y":0.04},{"x":451.9,"y":0},{"x":454.7,"y":0},{"x":455.3,"y":0.05},{"x":455.9,"y":0},{"x":459.1,"y":0},{"x":459.7,"y":0.04},{"x":460.3,"y":0},{"x":464.2,"y":0},{"x":464.8,"y":0.045},{"x":465.4,"y":0},{"x":485.5,"y":0},{"x":486.5,"y":0.04},{"x":487.5,"y":0.015},{"x":488.5,"y":0.03},{"x":489.5,"y":0},{"x":494.5,"y":0}],
"b_m":[{"x":324.8,"y":0},{"x":492.0,"y":0},{"x":492.8,"y":0.02},{"x":493.5,"y":0},{"x":494.5,"y":0}],
"b_all":[{"x":324.8,"y":0.01},{"x":325.8,"y":0.015},{"x":326.5,"y":0.075},{"x":327.2,"y":0.03},{"x":328.2,"y":0.1},{"x":329.05,"y":0.352},{"x":329.8,"y":0.16},{"x":330.3,"y":0.146},{"x":330.9,"y":0.08},{"x":331.9,"y":0.181},{"x":332.6,"y":0.06},{"x":333.4,"y":0.06},{"x":334.4,"y":0.107},{"x":335.2,"y":0.06},{"x":336.0,"y":0.06},{"x":336.6,"y":0.2},{"x":337.0,"y":0.89},{"x":337.4,"y":0.2},{"x":338.0,"y":0.05},{"x":339.0,"y":0.02},{"x":341,"y":0.015},{"x":343.5,"y":0.015},{"x":344.6,"y":0.025},{"x":345.5,"y":0.015},{"x":346.7,"y":0.02},{"x":348.5,"y":0.02},{"x":349.8,"y":0.075},{"x":350.7,"y":0.03},{"x":351.5,"y":0.04},{"x":352.0,"y":0.1},{"x":352.9,"y":0.309},{"x":353.5,"y":0.26},{"x":354.2,"y":0.197},{"x":354.7,"y":0.26},{"x":355.3,"y":0.28},{"x":355.7,"y":0.27},{"x":356.1,"y":0.295},{"x":356.8,"y":0.14},{"x":357.6,"y":0.288},{"x":358.4,"y":0.08},{"x":359.5,"y":0.03},{"x":360.56,"y":0.181},{"x":361.4,"y":0.04},{"x":363.0,"y":0.015},{"x":364.0,"y":0.096},{"x":365.0,"y":0.02},{"x":366.3,"y":0.02},{"x":367.1,"y":0.075},{"x":367.5,"y":0.06},{"x":368.1,"y":0.124},{"x":369.0,"y":0.02},{"x":370.9,"y":0.102},{"x":371.8,"y":0.02},{"x":373.5,"y":0.01},{"x":375.4,"y":0.145},{"x":376.4,"y":0.015},{"x":378,"y":0.012},{"x":380.3,"y":0.096},{"x":381.2,"y":0.03},{"x":382.5,"y":0.03},{"x":384,"y":0.02},{"x":385.6,"y":0.09},{"x":386.6,"y":0.03},{"x":388.1,"y":0.118},{"x":388.7,"y":0.07},{"x":389.3,"y":0.1},{"x":390.2,"y":0.04},{"x":390.8,"y":0.2},{"x":391.2,"y":0.466},{"x":391.7,"y":0.15},{"x":392.5,"y":0.04},{"x":393.0,"y":0.04},{"x":394.1,"y":0.06},{"x":395.2,"y":0.01},{"x":397.1,"y":0.03},{"x":398.5,"y":0.01},{"x":399.6,"y":0.055},{"x":400.5,"y":0.02},{"x":401.2,"y":0.03},{"x":402.5,"y":0.01},{"x":403.7,"y":0.03},{"x":404.8,"y":0.01},{"x":405.8,"y":0.03},{"x":407,"y":0.01},{"x":409.2,"y":0.05},{"x":410.0,"y":0.04},{"x":410.9,"y":0.045},{"x":412,"y":0.04},{"x":413,"y":0.05},{"x":414.0,"y":0.075},{"x":414.8,"y":0.06},{"x":415.3,"y":0.065},{"x":416.4,"y":0.045},{"x":417.5,"y":0.01},{"x":419.0,"y":0.02},{"x":419.7,"y":0.125},{"x":420.6,"y":0.015},{"x":422.5,"y":0.025},{"x":423.4,"y":0.116},{"x":424.3,"y":0.015},{"x":426.5,"y":0.04},{"x":427.5,"y":0.135},{"x":428.4,"y":0.015},{"x":430,"y":0.005},{"x":432,"y":0.01},{"x":433.4,"y":0.06},{"x":434.3,"y":0.065},{"x":434.8,"y":0.06},{"x":435.6,"y":0.068},{"x":436.4,"y":0.01},{"x":437.8,"y":0.042},{"x":438.7,"y":0.005},{"x":441.5,"y":0.02},{"x":442.5,"y":0.005},{"x":443.9,"y":0.015},{"x":445,"y":0.03},{"x":446.0,"y":0.117},{"x":447.0,"y":0.04},{"x":448.1,"y":0.075},{"x":448.8,"y":0.05},{"x":449.5,"y":0.06},{"x":450.3,"y":0.01},{"x":451.3,"y":0.055},{"x":452.2,"y":0.01},{"x":453,"y":0.02},{"x":454,"y":0.005},{"x":455.3,"y":0.055},{"x":456.3,"y":0.005},{"x":457.2,"y":0.015},{"x":458.5,"y":0.065},{"x":459.1,"y":0.02},{"x":459.7,"y":0.05},{"x":460.4,"y":0.02},{"x":461.1,"y":0.065},{"x":462,"y":0.005},{"x":464.8,"y":0.06},{"x":465.8,"y":0.005},{"x":466.9,"y":0.06},{"x":467.8,"y":0.005},{"x":470,"y":0.01},{"x":471.4,"y":0.088},{"x":472.4,"y":0.01},{"x":473.8,"y":0.04},{"x":474.8,"y":0.005},{"x":475.9,"y":0.04},{"x":476.8,"y":0.02},{"x":477.4,"y":0.01},{"x":479.4,"y":0.06},{"x":480.3,"y":0.005},{"x":481.0,"y":0.015},{"x":483,"y":0.005},{"x":484.5,"y":0.02},{"x":485.9,"y":0.065},{"x":486.4,"y":0.05},{"x":487.0,"y":0.11},{"x":487.6,"y":0.05},{"x":488.4,"y":0.08},{"x":489.2,"y":0.01},{"x":491,"y":0.01},{"x":492.3,"y":0.065},{"x":493.0,"y":0.03},{"x":494.5,"y":0.01}],
"b_exp":[{"x":324.84,"y":20.1},{"x":326.07,"y":20.6},{"x":327.2,"y":25.8},{"x":328.32,"y":26.8},{"x":329.72,"y":29.6},{"x":330.57,"y":25.3},{"x":331.41,"y":22.5},{"x":332.81,"y":20.6},{"x":333.94,"y":22.0},{"x":335.34,"y":20.6},{"x":336.46,"y":24.4},{"x":337.59,"y":22.5},{"x":338.43,"y":18.7},{"x":339.55,"y":19.6},{"x":341.24,"y":21.0},{"x":342.92,"y":22.5},{"x":344.33,"y":26.8},{"x":345.17,"y":27.7},{"x":346.29,"y":29.1},{"x":347.42,"y":31.5},{"x":348.54,"y":33.9},{"x":349.66,"y":36.8},{"x":350.51,"y":38.2},{"x":351.35,"y":43.4},{"x":352.47,"y":47.2},{"x":353.71,"y":50.1},{"x":354.72,"y":46.3},{"x":355.56,"y":42.5},{"x":356.4,"y":37.7},{"x":357.53,"y":34.9},{"x":358.37,"y":33.4},{"x":358.93,"y":31.0},{"x":359.49,"y":25.3},{"x":360.06,"y":20.6},{"x":360.9,"y":19.6},{"x":362.02,"y":19.6},{"x":363.14,"y":18.7},{"x":363.99,"y":19.6},{"x":364.83,"y":22.9},{"x":365.95,"y":21.5},{"x":367.08,"y":19.1},{"x":368.76,"y":19.6},{"x":370.45,"y":20.6},{"x":371.57,"y":19.1},{"x":373.26,"y":19.1},{"x":374.94,"y":20.6},{"x":376.63,"y":21.5},{"x":378.31,"y":22.9},{"x":378.86,"y":24.9},{"x":380.28,"y":27.7},{"x":381.67,"y":30.1},{"x":382.51,"y":38.7},{"x":383.64,"y":54.9},{"x":384.48,"y":39.6},{"x":385.32,"y":44.4},{"x":386.17,"y":45.8},{"x":387.01,"y":40.6},{"x":388.13,"y":39.6},{"x":388.97,"y":50.1},{"x":389.65,"y":57.2},{"x":390.38,"y":45.3},{"x":391.11,"y":31.0},{"x":391.78,"y":31.0},{"x":392.34,"y":24.4},{"x":393.02,"y":16.8},{"x":394.31,"y":15.8},{"x":395.71,"y":18.7},{"x":396.84,"y":15.3},{"x":398.8,"y":15.3},{"x":400.21,"y":20.6},{"x":401.33,"y":17.2},{"x":403.02,"y":20.1},{"x":404.7,"y":18.7},{"x":406.39,"y":17.2},{"x":408.07,"y":17.2},{"x":409.2,"y":22.5},{"x":410.32,"y":32.9},{"x":410.88,"y":48.2},{"x":411.44,"y":66.3},{"x":412.0,"y":53.9},{"x":412.85,"y":36.8},{"x":413.69,"y":21.0},{"x":414.53,"y":29.1},{"x":415.09,"y":33.9},{"x":415.82,"y":37.7},{"x":416.5,"y":26.3},{"x":417.34,"y":19.6},{"x":418.74,"y":19.1},{"x":420.71,"y":18.2},{"x":421.83,"y":26.3},{"x":422.96,"y":34.4},{"x":423.8,"y":26.3},{"x":424.64,"y":17.2},{"x":426.05,"y":21.5},{"x":427.17,"y":17.2},{"x":428.29,"y":16.3},{"x":429.98,"y":12.9},{"x":431.66,"y":17.2},{"x":433.35,"y":15.3},{"x":434.75,"y":21.5},{"x":435.87,"y":18.7},{"x":437.28,"y":14.4},{"x":438.4,"y":12.9},{"x":439.52,"y":14.4},{"x":440.65,"y":13.9},{"x":442.33,"y":12.8},{"x":443.46,"y":14.4},{"x":445.14,"y":16.3},{"x":446.26,"y":13.4},{"x":447.39,"y":15.3},{"x":448.79,"y":17.2},{"x":449.52,"y":20.1},{"x":450.76,"y":14.9},{"x":452.44,"y":12.9},{"x":454.13,"y":12.5},{"x":455.81,"y":13.4},{"x":457.5,"y":12.0},{"x":459.18,"y":12.0},{"x":460.87,"y":12.0},{"x":462.55,"y":12.5},{"x":464.24,"y":15.3},{"x":465.92,"y":18.7},{"x":467.05,"y":20.6},{"x":467.89,"y":24.4},{"x":468.73,"y":17.2},{"x":469.86,"y":12.0},{"x":471.54,"y":11.0},{"x":473.23,"y":10.6},{"x":474.91,"y":11.0},{"x":476.6,"y":11.5},{"x":478.28,"y":11.0},{"x":479.97,"y":11.5},{"x":481.65,"y":11.0},{"x":483.34,"y":12.0},{"x":485.02,"y":12.5},{"x":486.99,"y":14.4},{"x":488.39,"y":11.0},{"x":490.07,"y":10.8},{"x":491.48,"y":11.5},{"x":492.32,"y":15.8},{"x":493.17,"y":12.0},{"x":494.01,"y":21.0},{"x":494.85,"y":12.9}]
},
"vconcat":[
{"width":1007,"height":238,
"layer":[
{"encoding":{"x":{"field":"x","type":"quantitative","scale":{"domain":[324.8,494.5],"nice":false,"zero":false},"axis":{"values":[340,360,380,400,420,440,460,480],"labels":false,"title":null,"grid":true,"tickSize":-5,"minExtent":0,"maxExtent":0}},
"y":{"field":"y","type":"quantitative","scale":{"domain":[0,0.0219],"nice":false},"axis":{"values":[0,0.005,0.01,0.015,0.02],"labelExpr":"datum.value == 0 ? '0' : datum.value < 0.0075 ? '5 · 10⁻³' : datum.value < 0.0125 ? '1 · 10⁻²' : datum.value < 0.0175 ? '1.5 · 10⁻²' : '2 · 10⁻²'","labelFont":"Liberation Serif","title":null,"grid":true,"tickSize":-5,"labelPadding":8,"minExtent":95,"maxExtent":95}}},
"layer":[
{"data":{"name":"t_m"},"mark":{"type":"line","interpolate":"monotone","color":"#ff00ff","strokeWidth":2.5,"clip":true}},
{"data":{"name":"t_b"},"mark":{"type":"line","interpolate":"monotone","color":"#0000ff","strokeWidth":2.5,"clip":true}},
{"data":{"name":"t_g"},"mark":{"type":"line","interpolate":"monotone","color":"#1fe882","strokeWidth":2.5,"clip":true}},
{"data":{"name":"t_r"},"mark":{"type":"line","interpolate":"monotone","color":"#ff0000","strokeWidth":2.5,"clip":true}},
{"data":{"name":"t_o"},"mark":{"type":"line","interpolate":"monotone","color":"#ff8019","strokeWidth":2.5,"clip":true}},
{"data":{"name":"t_all"},"mark":{"type":"line","interpolate":"monotone","color":"black","strokeWidth":1.2,"clip":true},
 "encoding":{"strokeDash":{"datum":"Overall","type":"nominal","scale":{"domain":["Overall","Exp. overall"],"range":[[1,0],[2.5,2.5]]},
 "legend":{"orient":"none","legendX":784,"legendY":6,"title":null,"strokeColor":"#555","fillColor":"white","padding":8,"labelFontSize":21,"labelFont":"Liberation Serif","symbolType":"stroke","symbolSize":1100,"symbolStrokeWidth":2,"symbolStrokeColor":"black","rowPadding":0,"labelOffset":32}}}},
{"data":{"name":"t_arr"},"mark":{"type":"line","interpolate":"cardinal","strokeWidth":1.2,"clip":true},
 "encoding":{"color":{"field":"s","type":"nominal","scale":{"domain":["N2CB","N2pBX","N2AX","N2pAX","N"],"range":["#1fe882","#ff8019","#0000ff","#ff0000","#ff00ff"]},"legend":null},"order":{"field":"i","type":"quantitative"}}},
{"data":{"name":"t_head"},"mark":{"type":"point","filled":true,"opacity":1,"size":55,"clip":true},
 "encoding":{"color":{"field":"s","type":"nominal","legend":null},"shape":{"field":"s","type":"nominal","scale":{"domain":["N2CB","N2pBX","N2AX","N2pAX","N"],"range":["triangle-up","triangle-left","triangle-down","triangle-down","triangle-down"]},"legend":null}}},
{"data":{"name":"t_labv"},"mark":{"type":"text","angle":270,"fontSize":21,"align":"center","baseline":"middle","font":"Liberation Serif"},
 "encoding":{"text":{"field":"t"},"color":{"field":"s","type":"nominal","legend":null}}},
{"data":{"name":"t_labh"},"mark":{"type":"text","fontSize":21,"align":"center","baseline":"middle","font":"Liberation Serif"},
 "encoding":{"text":{"field":"t"},"color":{"field":"s","type":"nominal","legend":null}}}
]},
{"data":{"name":"t_exp"},"mark":{"type":"line","color":"black","strokeWidth":2.4,"clip":true},
 "encoding":{"x":{"field":"x","type":"quantitative"},"y":{"field":"y","type":"quantitative","scale":{"domain":[0,14.05],"nice":false},"axis":{"orient":"right","values":[0,5,10],"labelFont":"Liberation Serif","grid":false,"title":null,"tickSize":-5,"labelPadding":8,"minExtent":68,"maxExtent":68}},
 "strokeDash":{"datum":"Exp. overall","type":"nominal"}}}
],
"resolve":{"scale":{"y":"independent"}}},
{"width":1007,"height":238,
"layer":[
{"encoding":{"x":{"field":"x","type":"quantitative","scale":{"domain":[324.8,494.5],"nice":false,"zero":false},"axis":{"values":[340,360,380,400,420,440,460,480],"labels":false,"title":null,"grid":true,"tickSize":-5,"minExtent":0,"maxExtent":0}},
"y":{"field":"y","type":"quantitative","scale":{"domain":[0,0.869],"nice":false},"axis":{"values":[0,0.2,0.4,0.6,0.8],"labelExpr":"datum.value == 0 ? '0' : format(datum.value, '.1f')","labelFont":"Liberation Serif","titleFont":"Liberation Serif","title":"Îλⁿᵉ,ᴮˡᵘᵉ [W/(cm² · sr · µm)]","titlePadding":2,"grid":true,"tickSize":-5,"labelPadding":8,"minExtent":95,"maxExtent":95}}},
"layer":[
{"data":{"name":"m_m"},"mark":{"type":"line","interpolate":"monotone","color":"#ff00ff","strokeWidth":2.5,"clip":true}},
{"data":{"name":"m_b"},"mark":{"type":"line","interpolate":"monotone","color":"#0000ff","strokeWidth":2.5,"clip":true}},
{"data":{"name":"m_g"},"mark":{"type":"line","interpolate":"monotone","color":"#1fe882","strokeWidth":2.5,"clip":true}},
{"data":{"name":"m_r"},"mark":{"type":"line","interpolate":"monotone","color":"#ff0000","strokeWidth":2.5,"clip":true}},
{"data":{"name":"m_o"},"mark":{"type":"line","interpolate":"monotone","color":"#ff8019","strokeWidth":2.5,"clip":true}},
{"data":{"name":"m_all"},"mark":{"type":"line","interpolate":"monotone","color":"black","strokeWidth":1.2,"clip":true}}
]},
{"data":{"name":"m_exp"},"mark":{"type":"line","color":"black","strokeWidth":2.4,"strokeDash":[2.5,2.5],"clip":true},
 "encoding":{"x":{"field":"x","type":"quantitative"},"y":{"field":"y","type":"quantitative","scale":{"domain":[0,42.9],"nice":false},"axis":{"orient":"right","values":[0,10,20,30,40],"labelFont":"Liberation Serif","titleFont":"Liberation Serif","grid":false,"title":"Îλⁿᵉ,ᴮˡᵘᵉ,ᵉˣᵖ [W/(cm² · sr · µm)]","titlePadding":2,"tickSize":-5,"labelPadding":8,"minExtent":68,"maxExtent":68}}}}
],
"resolve":{"scale":{"y":"independent"}}},
{"width":1007,"height":238,
"layer":[
{"encoding":{"x":{"field":"x","type":"quantitative","scale":{"domain":[324.8,494.5],"nice":false,"zero":false},"axis":{"values":[340,360,380,400,420,440,460,480],"labelExpr":"datum.value % 40 == 20 ? datum.label : ''","labelFont":"Liberation Serif","titleFont":"Liberation Serif","title":"λ [nm]","grid":true,"tickSize":-5,"labelPadding":8,"titlePadding":2}},
"y":{"field":"y","type":"quantitative","scale":{"domain":[0,1.02],"nice":false},"axis":{"values":[0,0.2,0.4,0.6,0.8],"labelExpr":"datum.value == 0 ? '0' : format(datum.value, '.1f')","labelFont":"Liberation Serif","title":null,"grid":true,"tickSize":-5,"labelPadding":8,"minExtent":95,"maxExtent":95}}},
"layer":[
{"data":{"name":"b_m"},"mark":{"type":"line","interpolate":"monotone","color":"#ff00ff","strokeWidth":2.5,"clip":true}},
{"data":{"name":"b_b"},"mark":{"type":"line","interpolate":"monotone","color":"#0000ff","strokeWidth":2.5,"clip":true}},
{"data":{"name":"b_g"},"mark":{"type":"line","interpolate":"monotone","color":"#1fe882","strokeWidth":2.5,"clip":true}},
{"data":{"name":"b_r"},"mark":{"type":"line","interpolate":"monotone","color":"#ff0000","strokeWidth":2.5,"clip":true}},
{"data":{"name":"b_o"},"mark":{"type":"line","interpolate":"monotone","color":"#ff8019","strokeWidth":2.5,"clip":true}},
{"data":{"name":"b_all"},"mark":{"type":"line","interpolate":"monotone","color":"black","strokeWidth":1.2,"clip":true}}
]},
{"data":{"name":"b_exp"},"mark":{"type":"line","color":"black","strokeWidth":2.4,"strokeDash":[2.5,2.5],"clip":true},
 "encoding":{"x":{"field":"x","type":"quantitative"},"y":{"field":"y","type":"quantitative","scale":{"domain":[0,68.3],"nice":false},"axis":{"orient":"right","values":[0,20,40,60],"labelFont":"Liberation Serif","grid":false,"title":null,"tickSize":-5,"labelPadding":8,"minExtent":68,"maxExtent":68}}}}
],
"resolve":{"scale":{"y":"independent"}}}
]
}
